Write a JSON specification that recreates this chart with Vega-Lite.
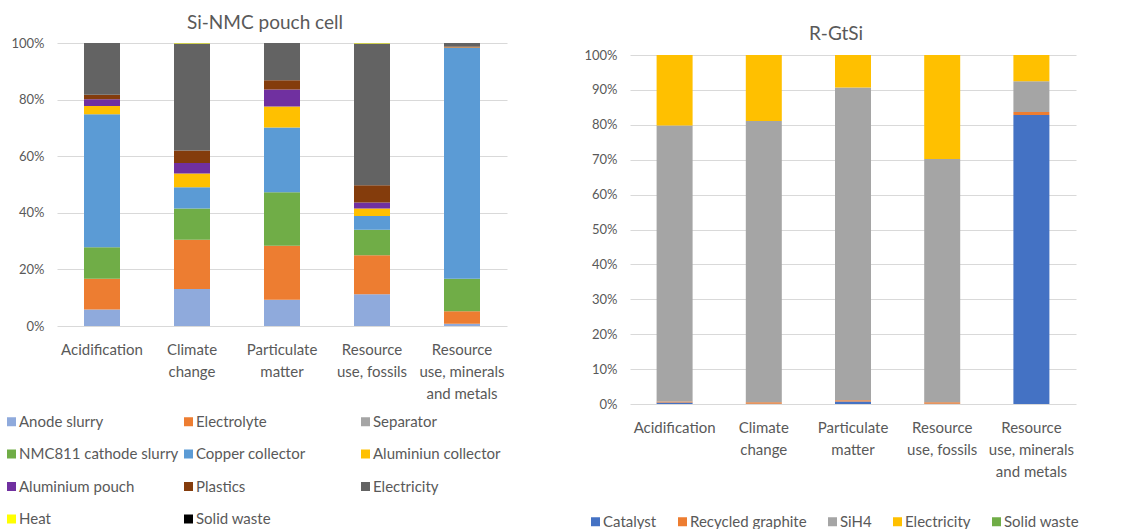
{
  "$schema": "https://vega.github.io/schema/vega-lite/v6.json",
  "background": "white",
  "padding": {"left": 4, "top": 14, "right": 0, "bottom": 0},
  "config": {
    "font": "Lato",
    "view": {"stroke": null},
    "title": {"fontSize": 19, "fontWeight": "normal", "color": "#595959", "offset": 4, "dx": -17},
    "axis": {
      "labelColor": "#595959",
      "domain": false,
      "ticks": false,
      "gridColor": "#D9D9D9",
      "gridWidth": 1,
      "title": null
    }
  },
  "datasets": {
    "pouch": [
      {"category": "Acidification", "component": "Anode slurry", "share": 5.8},
      {"category": "Acidification", "component": "Electrolyte", "share": 10.9},
      {"category": "Acidification", "component": "NMC811 cathode slurry", "share": 11.1},
      {"category": "Acidification", "component": "Copper collector", "share": 47.0},
      {"category": "Acidification", "component": "Aluminiun collector", "share": 2.9},
      {"category": "Acidification", "component": "Aluminium pouch", "share": 2.4},
      {"category": "Acidification", "component": "Plastics", "share": 1.6},
      {"category": "Acidification", "component": "Electricity", "share": 18.3},
      {"category": "Climate change", "component": "Anode slurry", "share": 13.1},
      {"category": "Climate change", "component": "Electrolyte", "share": 17.4},
      {"category": "Climate change", "component": "NMC811 cathode slurry", "share": 11.0},
      {"category": "Climate change", "component": "Copper collector", "share": 7.5},
      {"category": "Climate change", "component": "Aluminiun collector", "share": 4.9},
      {"category": "Climate change", "component": "Aluminium pouch", "share": 3.7},
      {"category": "Climate change", "component": "Plastics", "share": 4.4},
      {"category": "Climate change", "component": "Electricity", "share": 37.8},
      {"category": "Climate change", "component": "Heat", "share": 0.2},
      {"category": "Particulate matter", "component": "Anode slurry", "share": 9.3},
      {"category": "Particulate matter", "component": "Electrolyte", "share": 19.1},
      {"category": "Particulate matter", "component": "NMC811 cathode slurry", "share": 18.9},
      {"category": "Particulate matter", "component": "Copper collector", "share": 22.8},
      {"category": "Particulate matter", "component": "Aluminiun collector", "share": 7.5},
      {"category": "Particulate matter", "component": "Aluminium pouch", "share": 6.0},
      {"category": "Particulate matter", "component": "Plastics", "share": 3.2},
      {"category": "Particulate matter", "component": "Electricity", "share": 13.2},
      {"category": "Resource use, fossils", "component": "Anode slurry", "share": 11.2},
      {"category": "Resource use, fossils", "component": "Electrolyte", "share": 13.8},
      {"category": "Resource use, fossils", "component": "NMC811 cathode slurry", "share": 9.0},
      {"category": "Resource use, fossils", "component": "Copper collector", "share": 4.9},
      {"category": "Resource use, fossils", "component": "Aluminiun collector", "share": 2.6},
      {"category": "Resource use, fossils", "component": "Aluminium pouch", "share": 2.1},
      {"category": "Resource use, fossils", "component": "Plastics", "share": 6.1},
      {"category": "Resource use, fossils", "component": "Electricity", "share": 50.1},
      {"category": "Resource use, fossils", "component": "Heat", "share": 0.2},
      {"category": "Resource use, minerals and metals", "component": "Anode slurry", "share": 0.8},
      {"category": "Resource use, minerals and metals", "component": "Electrolyte", "share": 4.4},
      {"category": "Resource use, minerals and metals", "component": "NMC811 cathode slurry", "share": 11.5},
      {"category": "Resource use, minerals and metals", "component": "Copper collector", "share": 81.5},
      {"category": "Resource use, minerals and metals", "component": "Aluminiun collector", "share": 0.2},
      {"category": "Resource use, minerals and metals", "component": "Aluminium pouch", "share": 0.1},
      {"category": "Resource use, minerals and metals", "component": "Plastics", "share": 0.3},
      {"category": "Resource use, minerals and metals", "component": "Electricity", "share": 1.2}
    ],
    "gtsi": [
      {"category": "Acidification", "source": "Catalyst", "share": 0.4},
      {"category": "Acidification", "source": "Recycled graphite", "share": 0.3},
      {"category": "Acidification", "source": "SiH4", "share": 79.1},
      {"category": "Acidification", "source": "Electricity", "share": 20.2},
      {"category": "Climate change", "source": "Catalyst", "share": 0.1},
      {"category": "Climate change", "source": "Recycled graphite", "share": 0.4},
      {"category": "Climate change", "source": "SiH4", "share": 80.6},
      {"category": "Climate change", "source": "Electricity", "share": 18.9},
      {"category": "Particulate matter", "source": "Catalyst", "share": 0.7},
      {"category": "Particulate matter", "source": "Recycled graphite", "share": 0.4},
      {"category": "Particulate matter", "source": "SiH4", "share": 89.6},
      {"category": "Particulate matter", "source": "Electricity", "share": 9.3},
      {"category": "Resource use, fossils", "source": "Catalyst", "share": 0.1},
      {"category": "Resource use, fossils", "source": "Recycled graphite", "share": 0.4},
      {"category": "Resource use, fossils", "source": "SiH4", "share": 69.7},
      {"category": "Resource use, fossils", "source": "Electricity", "share": 29.8},
      {"category": "Resource use, minerals and metals", "source": "Catalyst", "share": 82.8},
      {"category": "Resource use, minerals and metals", "source": "Recycled graphite", "share": 0.9},
      {"category": "Resource use, minerals and metals", "source": "SiH4", "share": 8.8},
      {"category": "Resource use, minerals and metals", "source": "Electricity", "share": 7.5}
    ]
  },
  "spacing": 76,
  "resolve": {
    "scale": {"color": "independent", "x": "independent", "y": "independent"},
    "legend": {"color": "independent"}
  },
  "hconcat": [
    {
      "title": "Si-NMC pouch cell",
      "width": 450,
      "height": 283,
      "data": {"name": "pouch"},
      "transform": [
        {
          "calculate": "indexof(['Anode slurry','Electrolyte','Separator','NMC811 cathode slurry','Copper collector','Aluminiun collector','Aluminium pouch','Plastics','Electricity','Heat','Solid waste'], datum.component)",
          "as": "stack_rank"
        }
      ],
      "mark": {"type": "bar", "size": 36},
      "encoding": {
        "x": {
          "field": "category",
          "type": "nominal",
          "sort": null,
          "scale": {"paddingInner": 0, "paddingOuter": 0},
          "axis": {
            "labelAngle": 0,
            "labelFontSize": 15,
            "labelLineHeight": 22,
            "labelPadding": 16,
            "labelOverlap": false,
            "labelExpr": "{'Acidification': 'Acidification', 'Climate change': ['Climate', 'change'], 'Particulate matter': ['Particulate', 'matter'], 'Resource use, fossils': ['Resource', 'use, fossils'], 'Resource use, minerals and metals': ['Resource', 'use, minerals', 'and metals']}[datum.value]"
          }
        },
        "y": {
          "field": "share",
          "type": "quantitative",
          "stack": "normalize",
          "scale": {"domain": [0, 1], "nice": false},
          "axis": {
            "values": [0, 0.2, 0.4, 0.6, 0.8, 1],
            "format": ".0%",
            "labelFontSize": 13,
            "labelPadding": 13,
            "grid": true
          }
        },
        "color": {
          "field": "component",
          "type": "nominal",
          "scale": {
            "domain": ["Anode slurry", "Electrolyte", "Separator", "NMC811 cathode slurry", "Copper collector", "Aluminiun collector", "Aluminium pouch", "Plastics", "Electricity", "Heat", "Solid waste"],
            "range": ["#8FAADC", "#ED7D31", "#A5A5A5", "#70AD47", "#5B9BD5", "#FFC000", "#7030A0", "#843C0C", "#636363", "#FFFF00", "#000000"]
          },
          "legend": {
            "title": null,
            "orient": "none",
            "legendX": -53,
            "legendY": 371,
            "direction": "horizontal",
            "columns": 3,
            "gridAlign": "all",
            "columnPadding": 2,
            "rowPadding": 16.5,
            "symbolType": "square",
            "symbolSize": 81,
            "symbolStrokeWidth": 0,
            "labelFontSize": 15,
            "labelColor": "#595959",
            "labelOffset": 0,
            "labelLimit": 260
          }
        },
        "order": {"field": "stack_rank", "type": "quantitative"}
      }
    },
    {
      "title": {"text": "R-GtSi", "offset": -1},
      "width": 446,
      "height": 361,
      "data": {"name": "gtsi"},
      "transform": [
        {
          "calculate": "indexof(['Catalyst','Recycled graphite','SiH4','Electricity','Solid waste'], datum.source)",
          "as": "stack_rank"
        }
      ],
      "mark": {"type": "bar", "size": 36},
      "encoding": {
        "x": {
          "field": "category",
          "type": "nominal",
          "sort": null,
          "scale": {"paddingInner": 0, "paddingOuter": 0},
          "axis": {
            "labelAngle": 0,
            "labelFontSize": 15,
            "labelLineHeight": 22,
            "labelPadding": 16,
            "labelOverlap": false,
            "labelExpr": "{'Acidification': 'Acidification', 'Climate change': ['Climate', 'change'], 'Particulate matter': ['Particulate', 'matter'], 'Resource use, fossils': ['Resource', 'use, fossils'], 'Resource use, minerals and metals': ['Resource', 'use, minerals', 'and metals']}[datum.value]"
          }
        },
        "y": {
          "field": "share",
          "type": "quantitative",
          "stack": "normalize",
          "scale": {"domain": [0, 1.0344], "nice": false},
          "axis": {
            "values": [0, 0.1, 0.2, 0.3, 0.4, 0.5, 0.6, 0.7, 0.8, 0.9, 1],
            "format": ".0%",
            "labelFontSize": 13,
            "labelPadding": 13,
            "grid": true
          }
        },
        "color": {
          "field": "source",
          "type": "nominal",
          "scale": {
            "domain": ["Catalyst", "Recycled graphite", "SiH4", "Electricity", "Solid waste"],
            "range": ["#4472C4", "#ED7D31", "#A5A5A5", "#FFC000", "#70AD47"]
          },
          "legend": {
            "title": null,
            "orient": "none",
            "legendX": -42,
            "legendY": 471,
            "direction": "horizontal",
            "columns": 5,
            "columnPadding": 18,
            "symbolType": "square",
            "symbolSize": 81,
            "symbolStrokeWidth": 0,
            "labelFontSize": 15,
            "labelColor": "#595959",
            "labelOffset": 0,
            "labelLimit": 260
          }
        },
        "order": {"field": "stack_rank", "type": "quantitative"}
      }
    }
  ]
}
